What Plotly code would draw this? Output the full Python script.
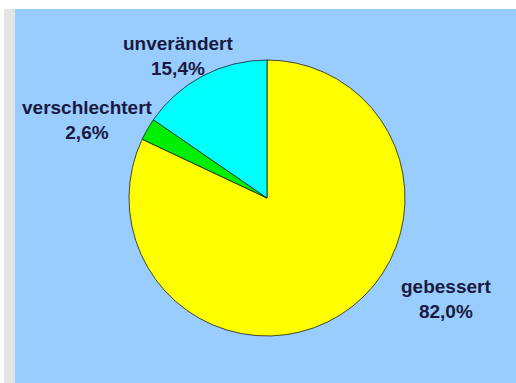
import plotly.graph_objects as go

labels = ["gebessert", "verschlechtert", "unverändert"]
values = [82.0, 2.6, 15.4]
value_text = ["82,0%", "2,6%", "15,4%"]
colors = ["#FFFF00", "#00EE00", "#00FFFF"]

W, H = 516, 383

fig = go.Figure()
fig.add_trace(go.Pie(
    labels=labels,
    values=values,
    sort=False,
    direction="clockwise",
    rotation=0,
    textinfo="none",
    hoverinfo="label+percent",
    marker=dict(colors=colors, line=dict(color="rgba(20,20,20,0.75)", width=1)),
    domain=dict(x=[(267 - 138) / W, (267 + 138) / W], y=[1 - 336 / H, 1 - 60 / H]),
    showlegend=False,
))

# label positions (paper coords) for each slice
label_pos = {
    "gebessert": (446 / W, 1 - 298.5 / H),
    "verschlechtert": (87 / W, 1 - 120 / H),
    "unverändert": (178 / W, 1 - 56 / H),
}
for lab, vt in zip(labels, value_text):
    x, y = label_pos[lab]
    fig.add_annotation(
        x=x, y=y, xref="paper", yref="paper",
        text=f"<b>{lab}</b><br><b>{vt}</b>",
        showarrow=False, align="center",
        xanchor="center", yanchor="middle",
        font=dict(family="Liberation Sans, Arial, sans-serif", size=19, color="#1a1a40"),
    )

fig.update_layout(
    width=W, height=H,
    margin=dict(l=0, r=0, t=0, b=0),
    paper_bgcolor="white",
    plot_bgcolor="white",
    shapes=[
        dict(type="rect", xref="paper", yref="paper", x0=4 / W, x1=15 / W, y0=0, y1=1 - 9 / H,
             fillcolor="#E4E4E4", line=dict(width=0), layer="below"),
        dict(type="rect", xref="paper", yref="paper", x0=15 / W, x1=1, y0=0, y1=1 - 9 / H,
             fillcolor="#99CCFF", line=dict(width=0), layer="below"),
    ],
)

fig.write_html("out.html")
